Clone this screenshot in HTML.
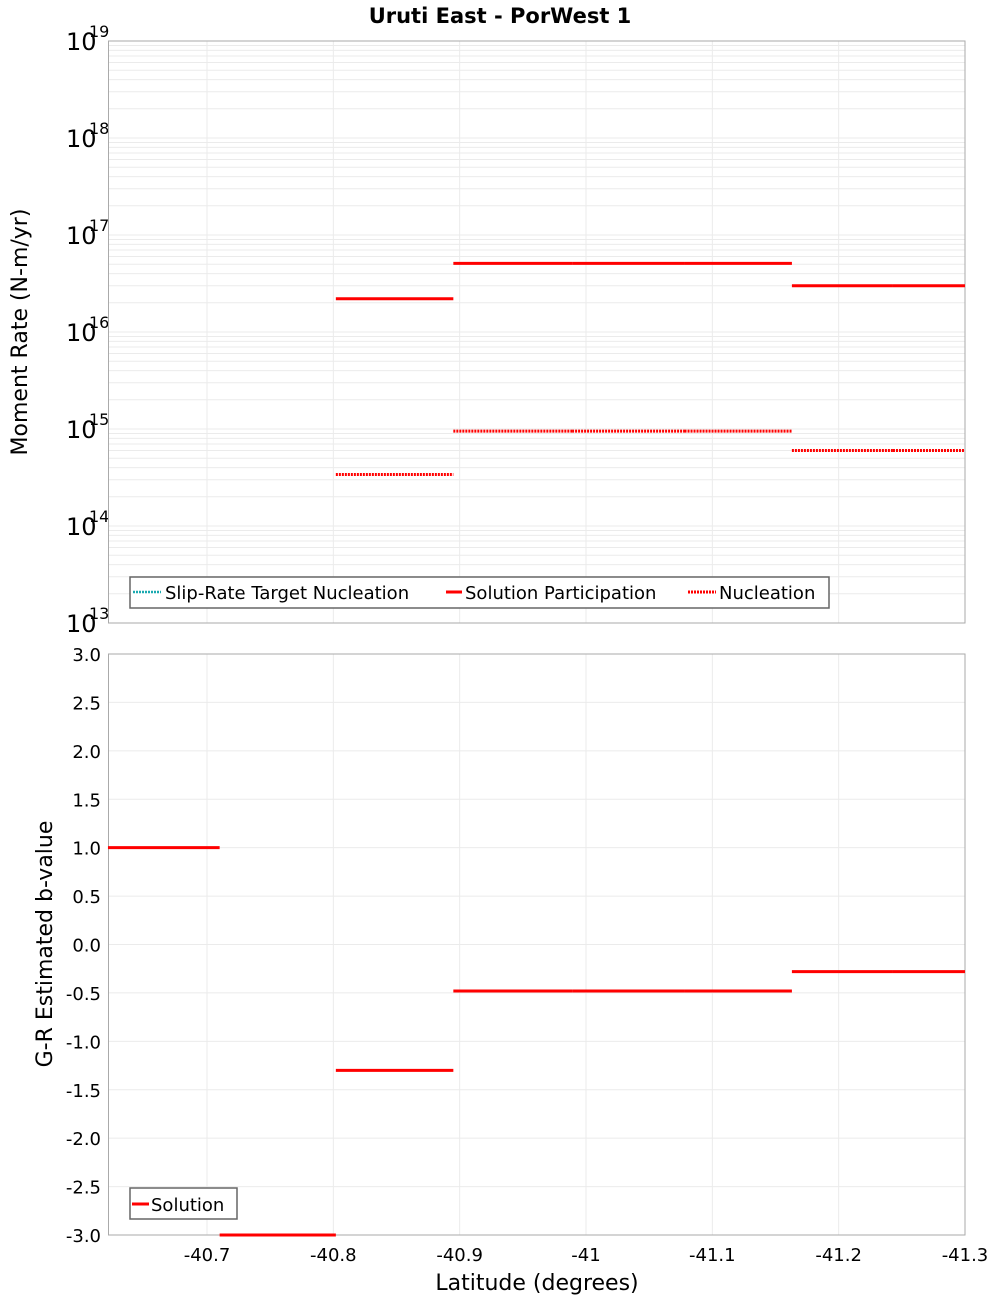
<!DOCTYPE html>
<html><head><meta charset="utf-8"><style>
body{margin:0;background:#fff}
svg{display:block;font-family:"DejaVu Sans","Liberation Sans",sans-serif}
</style></head><body>
<svg id="chart" width="1000" height="1300" xmlns="http://www.w3.org/2000/svg">
<text x="500" y="23" text-anchor="middle" font-size="21" font-weight="bold">Uruti East - PorWest 1</text>
<g id="topPanel"></g>
<g id="botPanel"></g>
<text transform="translate(27,332) rotate(-90)" text-anchor="middle" font-size="22">Moment Rate (N-m/yr)</text>
<text transform="translate(52,944) rotate(-90)" text-anchor="middle" font-size="22">G-R Estimated b-value</text>
<text x="537" y="1290" text-anchor="middle" font-size="22">Latitude (degrees)</text>
</svg>
<script>
// data
const segStart = [-40.6216, -40.710, -40.802, -40.895, -40.989, -41.078, -41.163, -41.243];
const segEnd   = [-40.710, -40.802, -40.895, -40.989, -41.078, -41.163, -41.243, -41.300];
const participation = [null, null, 2.2e16, 5.1e16, 5.1e16, 5.1e16, 3.0e16, 3.0e16];
const nucleation    = [null, null, 3.4e14, 9.5e14, 9.5e14, 9.5e14, 6.0e14, 6.0e14];
const bValues = [1.0, -3.0, -1.3, -0.48, -0.48, -0.48, -0.28, -0.28];
const xTicks = [-40.7, -40.8, -40.9, -41.0, -41.1, -41.2, -41.3];
const xTickLabels = ["-40.7", "-40.8", "-40.9", "-41", "-41.1", "-41.2", "-41.3"];
const decades = [13, 14, 15, 16, 17, 18, 19];
const bTicks = [3.0, 2.5, 2.0, 1.5, 1.0, 0.5, 0.0, -0.5, -1.0, -1.5, -2.0, -2.5, -3.0];

const NS = "http://www.w3.org/2000/svg";
const L = 108.5, R = 965;
const X = v => 207 + (-40.7 - v) / 0.1 * 126.33;
const T0 = 41, T1 = 623, B0 = 654, B1 = 1235;
const YT = v => T1 - (Math.log10(v) - 13) / 6 * (T1 - T0);
const YB = v => B0 + (3 - v) / 6 * (B1 - B0);
function mk(parent, tag, attrs, text) {
  const e = document.createElementNS(NS, tag);
  for (const k in attrs) e.setAttribute(k, attrs[k]);
  if (text !== undefined) e.textContent = text;
  parent.appendChild(e);
  return e;
}
const topPanel = document.getElementById("topPanel");
const botPanel = document.getElementById("botPanel");

// top grid
for (let d = 13; d < 19; d++) {
  for (let m = 1; m < 10; m++) {
    const y = YT(m * Math.pow(10, d));
    const g = mk(topPanel, "line", {x1: L, x2: R, y1: y, y2: y, stroke: "#ebebeb", "stroke-width": 1});
    
    
  }
}
// bottom grid
bTicks.forEach(v => {
  const y = YB(v);
  const g = mk(botPanel, "line", {x1: L, x2: R, y1: y, y2: y, stroke: "#ebebeb", "stroke-width": 1});
  
  
  const t = mk(botPanel, "text", {x: 101, y: y + 7, "text-anchor": "end", "font-size": 18}, v.toFixed(1));
  
  
});
xTicks.forEach((v, i) => {
  const x = X(v);
  [[T0, T1, topPanel], [B0, B1, botPanel]].forEach(([a, b, p]) => {
    const g = mk(p, "line", {x1: x, x2: x, y1: a, y2: b, stroke: "#ebebeb", "stroke-width": 1});
    
    
  });
  const t = mk(botPanel, "text", {x: x, y: 1261, "text-anchor": "middle", "font-size": 18}, xTickLabels[i]);
  
  
});
decades.forEach(d => {
  const y = YT(Math.pow(10, d));
  const t = mk(topPanel, "text", {x: 66, y: y + 9, "font-size": 24}, "10");
  
  
  const s = mk(topPanel, "text", {x: 89, y: y - 4, "font-size": 16}, String(d));
  
  
});
// frames
[[T0, T1, topPanel], [B0, B1, botPanel]].forEach(([a, b, p]) => {
  const r = mk(p, "rect", {x: L, y: a, width: R - L, height: b - a, fill: "none", stroke: "#aaa", "stroke-width": 1});
  
  
});
// series
segStart.forEach((s, i) => {
  if (participation[i] !== null) {
    const y = YT(participation[i]);
    const l = mk(topPanel, "line", {x1: X(s), x2: X(segEnd[i]), y1: y, y2: y, stroke: "#ff0000", "stroke-width": 3});
    
    
  }
  if (nucleation[i] !== null) {
    const y = YT(nucleation[i]);
    const l = mk(topPanel, "line", {x1: X(s), x2: X(segEnd[i]), y1: y, y2: y, stroke: "#ff0000", "stroke-width": 3, "stroke-dasharray": "2,1"});
    
    
  }
  const yb = YB(bValues[i]);
  const lb = mk(botPanel, "line", {x1: X(s), x2: X(segEnd[i]), y1: yb, y2: yb, stroke: "#ff0000", "stroke-width": 3});
  
  
});
// legends
const lg = mk(topPanel, "g", {});


mk(lg, "rect", {x: 130, y: 577, width: 699, height: 31, fill: "#fff", stroke: "#666", "stroke-width": 1.5});
mk(lg, "line", {x1: 133, x2: 161, y1: 592, y2: 592, stroke: "#1aa9b0", "stroke-width": 2.5, "stroke-dasharray": "2,1"});
mk(lg, "text", {x: 165, y: 599, "font-size": 18}, "Slip-Rate Target Nucleation");
mk(lg, "line", {x1: 446, x2: 462, y1: 592, y2: 592, stroke: "#ff0000", "stroke-width": 3});
mk(lg, "text", {x: 465, y: 599, "font-size": 18}, "Solution Participation");
mk(lg, "line", {x1: 688, x2: 716, y1: 592, y2: 592, stroke: "#ff0000", "stroke-width": 3, "stroke-dasharray": "2,1"});
mk(lg, "text", {x: 719, y: 599, "font-size": 18}, "Nucleation");
const lg2 = mk(botPanel, "g", {});


mk(lg2, "rect", {x: 130, y: 1188, width: 107, height: 31, fill: "#fff", stroke: "#666", "stroke-width": 1.5});
mk(lg2, "line", {x1: 132, x2: 149, y1: 1204, y2: 1204, stroke: "#ff0000", "stroke-width": 3});
mk(lg2, "text", {x: 151, y: 1211, "font-size": 18}, "Solution");
</script>
</body></html>
